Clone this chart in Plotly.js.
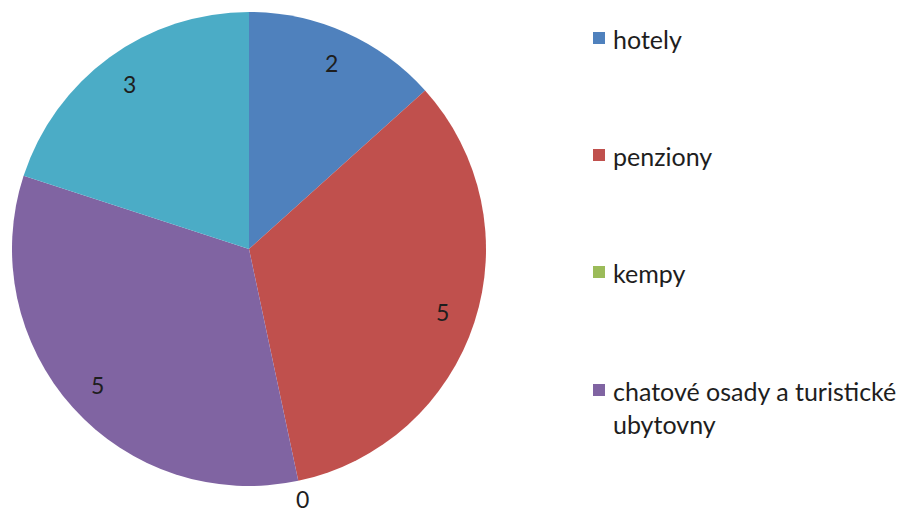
<!DOCTYPE html>
<html>
<head>
<meta charset="utf-8">
<script src="https://cdn.plot.ly/plotly-3.0.1.min.js"></script>
<style>html,body{margin:0;padding:0;background:#fff;}#chart{width:918px;height:517px;}</style>
</head>
<body>
<div id="chart"></div>
<script>
// Data
var categories = ["hotely", "penziony", "kempy", "chatové osady a turistické<br>ubytovny", "ostatní"];
var values = [2, 5, 0, 5, 3];
var colors = ["#4F81BD", "#C0504D", "#9BBB59", "#8064A2", "#4BACC6"];
var legendShown = 4; // the legend in the reference is cut off after 4 entries

var W = 918, H = 517;
var cxPx = 249, cyPx = 249, R = 237;
var font = "Lato, 'Open Sans', 'DejaVu Sans', sans-serif";

var annotations = [];
var shapes = [];

// data labels computed from the values (angles)
var total = values.reduce(function (a, b) { return a + b; }, 0);
var cum = 0;
for (var i = 0; i < values.length; i++) {
  var mid = (cum + values[i] / 2) / total * 2 * Math.PI;
  cum += values[i];
  var r = values[i] > 0 ? 0.86 * R : 1.08 * R;
  var px = cxPx + r * Math.sin(mid);
  var py = cyPx - r * Math.cos(mid);
  annotations.push({
    xref: "paper", yref: "paper", x: px / W, y: 1 - py / H,
    xanchor: "center", yanchor: "middle", showarrow: false, borderpad: 0,
    text: String(values[i]), font: {family: font, size: 23, color: "#1e1e1e"}
  });
}

// custom legend
var legendY = [38, 155, 272, 390];
for (var j = 0; j < legendShown; j++) {
  var yy = legendY[j];
  shapes.push({
    type: "rect", xref: "paper", yref: "paper",
    x0: 593 / W, x1: 605 / W, y0: 1 - (yy + 6) / H, y1: 1 - (yy - 6) / H,
    fillcolor: colors[j], line: {width: 0}
  });
  annotations.push({
    xref: "paper", yref: "paper", x: 611 / W, y: 1 - (yy - 16) / H,
    xanchor: "left", yanchor: "top", align: "left", showarrow: false,
    text: categories[j], font: {family: font, size: 25, color: "#1e1e1e"}
  });
}

var trace = {
  type: "pie",
  labels: categories,
  values: values,
  sort: false,
  direction: "clockwise",
  rotation: 0,
  marker: {colors: colors, line: {width: 0}},
  textinfo: "none",
  hoverinfo: "label+value",
  showlegend: false,
  domain: {x: [(cxPx - R) / W, (cxPx + R) / W], y: [1 - (cyPx + R) / H, 1 - (cyPx - R) / H]}
};

var layout = {
  width: W, height: H,
  margin: {l: 0, r: 0, t: 0, b: 0},
  paper_bgcolor: "#fff",
  showlegend: false,
  annotations: annotations,
  shapes: shapes
};

Plotly.newPlot("chart", [trace], layout, {displayModeBar: false, staticPlot: true});
</script>
</body>
</html>
